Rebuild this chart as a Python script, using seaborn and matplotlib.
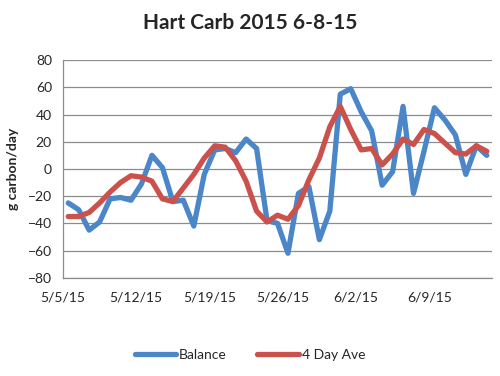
import matplotlib
matplotlib.use('Agg')
import matplotlib.pyplot as plt
import matplotlib.dates as mdates
import seaborn as sns
import pandas as pd

# daily values, 5/5/15 .. 6/14/15
start_date = '2015-05-05'
n_days = 41
balance = [-25, -30, -45, -39, -22, -21, -23, -11, 10, 1,
           -24, -23, -42, -4, 14, 15, 12, 22, 15, -38,
           -40, -62, -18, -13, -52, -31, 55, 59, 42, 28,
           -12, -2, 46, -18, 13, 45, 36, 25, -4, 17, 10]
four_day_ave = [-35, -35, -32, -25, -17, -10, -5, -6, -9, -22,
                -24, -14, -4, 8, 17, 16, 6, -9, -31, -39,
                -34, -37, -27, -8, 8, 31, 46, 29, 14, 15,
                3, 11, 22, 18, 29, 26, 19, 12, 11, 17, 13]
week_ticks = ['2015-05-05', '2015-05-12', '2015-05-19', '2015-05-26', '2015-06-02', '2015-06-09']
y_ticks = [-80, -60, -40, -20, 0, 20, 40, 60, 80]

# Excel date axis puts each point in the middle of its day
dates = pd.date_range(start_date, periods=n_days, freq='D') + pd.Timedelta(hours=12)
df = pd.DataFrame({'date': list(dates) * 2,
                   'value': balance + four_day_ave,
                   'series': ['Balance'] * n_days + ['4 Day Ave'] * n_days})

sns.set_style('white')
plt.rcParams['font.family'] = ['Lato', 'DejaVu Sans']

fig = plt.figure(figsize=(5, 3.76), dpi=100)
ax = fig.add_axes([0.126, 0.2614, 0.858, 0.5786])

sns.lineplot(data=df, x='date', y='value', hue='series',
             palette={'Balance': '#4a86c8', '4 Day Ave': '#cb514d'},
             linewidth=3.8, ax=ax, legend=True)

ax.set_xlim(pd.Timestamp(start_date), pd.Timestamp(start_date) + pd.Timedelta(days=n_days))
ax.set_ylim(-80, 80)
ax.set_yticks(y_ticks)
ax.set_xticks(pd.to_datetime(week_ticks))
ax.xaxis.set_major_formatter(mdates.DateFormatter('%-m/%-d/%y'))

grid_c = '#8c8c8c'
ax.yaxis.grid(True, color=grid_c, linewidth=0.9)
ax.set_axisbelow(True)
for s in ['top', 'right']:
    ax.spines[s].set_visible(False)
for s in ['left', 'bottom']:
    ax.spines[s].set_color(grid_c)
    ax.spines[s].set_linewidth(0.9)
ax.tick_params(axis='both', direction='out', length=4, width=0.9, color=grid_c,
               labelsize=10, pad=4)
ax.tick_params(axis='x', pad=6)

ax.set_xlabel('')
ax.set_ylabel('g carbon/day', fontsize=10, fontweight='bold', labelpad=6)
fig.suptitle('Hart Carb 2015 6-8-15', x=0.5, y=0.965, fontsize=15, fontweight='bold')

handles, labels = ax.get_legend_handles_labels()
ax.legend(handles, labels, loc='center', bbox_to_anchor=(0.5, 0.055), bbox_transform=fig.transFigure,
          ncol=2, frameon=False, fontsize=10, handlelength=3.0, handletextpad=0.2,
          columnspacing=2.2)

fig.savefig('out.png', dpi=100)
